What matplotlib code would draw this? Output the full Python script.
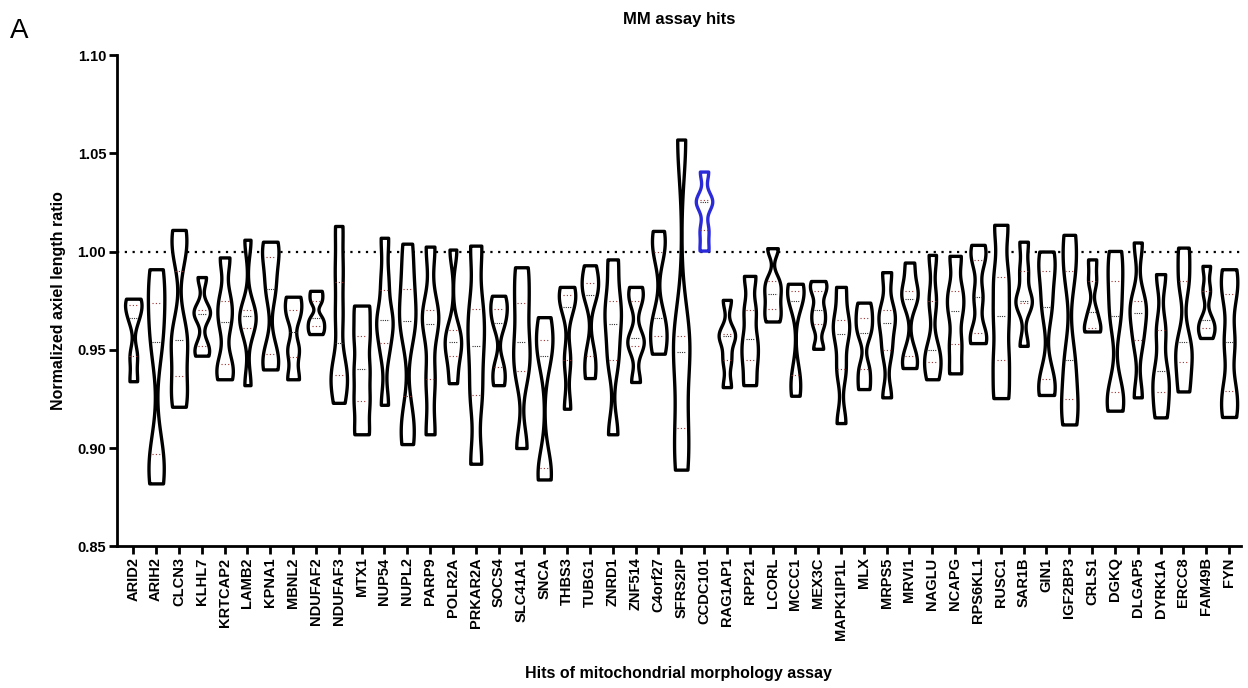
import numpy as np
import matplotlib
matplotlib.use("Agg")
import matplotlib.pyplot as plt

plt.rcParams['font.family'] = ['Liberation Sans', 'DejaVu Sans']

# gene hits (x axis order)
genes = ['ARID2', 'ARIH2', 'CLCN3', 'KLHL7', 'KRTCAP2', 'LAMB2', 'KPNA1', 'MBNL2',
         'NDUFAF2', 'NDUFAF3', 'MTX1', 'NUP54', 'NUPL2', 'PARP9', 'POLR2A', 'PRKAR2A',
         'SOCS4', 'SLC41A1', 'SNCA', 'THBS3', 'TUBG1', 'ZNRD1', 'ZNF514', 'C4orf27',
         'SFRS2IP', 'CCDC101', 'RAG1AP1', 'RPP21', 'LCORL', 'MCCC1', 'MEX3C', 'MAPK1IP1L',
         'MLX', 'MRPS5', 'MRVI1', 'NAGLU', 'NCAPG', 'RPS6KL1', 'RUSC1', 'SAR1B',
         'GIN1', 'IGF2BP3', 'CRLS1', 'DGKQ', 'DLGAP5', 'DYRK1A', 'ERCC8', 'FAM49B', 'FYN']

# normalized axial length ratios per gene
arid2 = [0.934, 0.947, 0.966, 0.973, 0.976]
arih2 = [0.882, 0.897, 0.954, 0.974, 0.991]
clcn3 = [0.921, 0.932, 0.950, 0.960, 1.000, 1.011]
klhl7 = [0.947, 0.952, 0.968, 0.970, 0.987]
krtcap2 = [0.935, 0.943, 0.964, 0.975, 0.997]
lamb2 = [0.932, 0.961, 0.967, 0.970, 1.006]
kpna1 = [0.940, 0.948, 0.981, 0.997, 1.005]
mbnl2 = [0.935, 0.950, 0.968, 0.977]
ndufaf2 = [0.958, 0.962, 0.966, 0.975, 0.980]
ndufaf3 = [0.923, 0.936, 0.940, 0.967, 0.990, 1.013]
mtx1 = [0.907, 0.924, 0.940, 0.957, 0.9725]
nup54 = [0.922, 0.950, 0.964, 0.966, 0.985, 1.007]
nupl2 = [0.902, 0.915, 0.960, 0.969, 0.985, 1.004]
parp9 = [0.907, 0.935, 0.963, 0.970, 1.0025]
polr2a = [0.933, 0.947, 0.954, 0.960, 1.001]
prkar2a = [0.892, 0.927, 0.952, 0.971, 1.003]
socs4 = [0.932, 0.941, 0.9635, 0.971, 0.9775]
slc41a1 = [0.900, 0.939, 0.954, 0.974, 0.992]
snca = [0.884, 0.890, 0.947, 0.955, 0.9666]
thbs3 = [0.920, 0.945, 0.972, 0.978, 0.982]
tubg1 = [0.9356, 0.947, 0.978, 0.984, 0.993]
znrd1 = [0.907, 0.945, 0.963, 0.975, 0.996]
znf514 = [0.9336, 0.952, 0.956, 0.975, 0.982]
c4orf27 = [0.948, 0.957, 0.966, 1.000, 1.0105]
sfrs2ip = [0.889, 0.910, 0.949, 0.957, 1.057]
ccdc101 = [1.0005, 1.011, 1.025, 1.026, 1.0407]
rag1ap1 = [0.931, 0.945, 0.957, 0.958, 0.9754]
rpp21 = [0.932, 0.945, 0.9554, 0.970, 0.9876]
lcorl = [0.9644, 0.971, 0.9785, 0.985, 1.0017]
mccc1 = [0.9266, 0.937, 0.975, 0.980, 0.9836]
mex3c = [0.9505, 0.963, 0.970, 0.980, 0.985]
mapk1ip1l = [0.9127, 0.940, 0.958, 0.965, 0.982]
mlx = [0.930, 0.940, 0.9585, 0.966, 0.974]
mrps5 = [0.9258, 0.950, 0.9636, 0.970, 0.9895]
mrvi1 = [0.9407, 0.947, 0.976, 0.980, 0.9944]
naglu = [0.935, 0.9436, 0.950, 0.975, 0.9983]
ncapg = [0.938, 0.953, 0.9695, 0.980, 0.9978]
rps6kl1 = [0.9534, 0.9585, 0.977, 0.9958, 1.0034]
rusc1 = [0.9254, 0.945, 0.967, 0.987, 1.0136]
sar1b = [0.952, 0.9737, 0.975, 0.990, 1.005]
gin1 = [0.927, 0.935, 0.972, 0.990, 1.000]
igf2bp3 = [0.912, 0.925, 0.945, 0.990, 1.0085]
crls1 = [0.9593, 0.961, 0.969, 0.985, 0.996]
dgkq = [0.919, 0.9286, 0.967, 0.985, 1.0003]
dlgap5 = [0.9258, 0.955, 0.9686, 0.975, 1.0046]
dyrk1a = [0.9156, 0.9286, 0.939, 0.960, 0.9885]
ercc8 = [0.9288, 0.9437, 0.954, 0.985, 1.002]
fam49b = [0.956, 0.961, 0.965, 0.980, 0.9927]
fyn = [0.9158, 0.929, 0.954, 0.9785, 0.991]

data = [arid2, arih2, clcn3, klhl7, krtcap2, lamb2, kpna1, mbnl2, ndufaf2, ndufaf3,
        mtx1, nup54, nupl2, parp9, polr2a, prkar2a, socs4, slc41a1, snca, thbs3,
        tubg1, znrd1, znf514, c4orf27, sfrs2ip, ccdc101, rag1ap1, rpp21, lcorl, mccc1,
        mex3c, mapk1ip1l, mlx, mrps5, mrvi1, naglu, ncapg, rps6kl1, rusc1, sar1b,
        gin1, igf2bp3, crls1, dgkq, dlgap5, dyrk1a, ercc8, fam49b, fyn]

highlight = 'CCDC101'

fig = plt.figure(figsize=(12.48, 6.88), dpi=100)
ax = fig.add_axes([0.094, 0.206, 0.900, 0.714])

pos = np.arange(len(genes))
vp = ax.violinplot(data, positions=pos, widths=0.72, bw_method=0.3,
                   showextrema=False, showmedians=True,
                   quantiles=[[0.25, 0.75]] * len(genes))

for g, body in zip(genes, vp['bodies']):
    body.set_facecolor('white')
    body.set_alpha(1)
    body.set_edgecolor('#2a2ad8' if g == highlight else 'black')
    body.set_linewidth(2.4)
    body.set_zorder(2)

vp['cmedians'].set_color('#333333')
vp['cmedians'].set_linewidth(0.8)
vp['cmedians'].set_linestyle((0, (1, 1)))
vp['cmedians'].set_zorder(3)
vp['cquantiles'].set_color('#a03030')
vp['cquantiles'].set_linewidth(0.8)
vp['cquantiles'].set_linestyle((0, (1, 2)))
vp['cquantiles'].set_zorder(3)

# reference line at ratio 1
ax.axhline(1.0, color='black', linestyle=(0, (1, 2.5)), linewidth=1.6, zorder=1)

ax.set_ylim(0.85, 1.10)
ax.set_yticks([0.85, 0.90, 0.95, 1.00, 1.05, 1.10])
ax.set_yticklabels(['0.85', '0.90', '0.95', '1.00', '1.05', '1.10'],
                   fontsize=10.5, fontweight='bold')
ax.set_xlim(-0.7, 48.5)
ax.set_xticks(pos)
ax.set_xticklabels(genes, rotation=90, fontsize=10.5, fontweight='bold')

for side in ['top', 'right']:
    ax.spines[side].set_visible(False)
for side in ['left', 'bottom']:
    ax.spines[side].set_linewidth(2.0)
ax.tick_params(axis='both', width=2.0, length=6, pad=2)

ax.set_ylabel('Normalized axiel length ratio', fontsize=11.5, fontweight='bold', labelpad=8)
ax.set_xlabel('Hits of mitochondrial morphology assay', fontsize=11.5,
              fontweight='bold', labelpad=19)
ax.set_title('MM assay hits', fontsize=12, fontweight='bold', pad=22)

fig.text(0.008, 0.955, 'A', fontsize=20, ha='left', va='center')

fig.savefig('out.png', dpi=100)
